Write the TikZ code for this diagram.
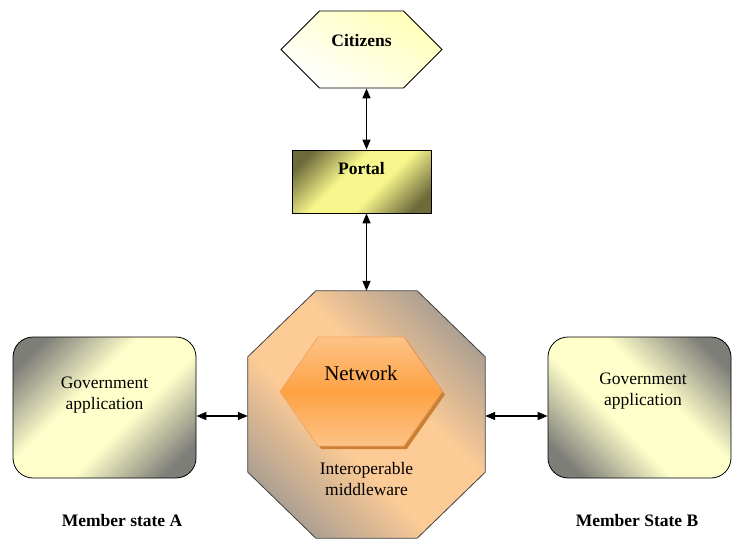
\documentclass[tikz,border=0pt]{standalone}
\usepackage{fontspec}
\setmainfont{Liberation Serif}
\usetikzlibrary{shapes.geometric,shapes.symbols,shadows,arrows.meta,positioning}
\definecolor{govdark}{HTML}{7E7E78}
\definecolor{govlight}{HTML}{FFFFCC}
\definecolor{portdark}{HTML}{6E6A3A}
\definecolor{portlight}{HTML}{F6F68C}
\definecolor{octdark}{HTML}{A39A90}
\definecolor{octlight}{HTML}{FDCB96}
\definecolor{netedge}{HTML}{F2A45E}
\pgfdeclarehorizontalshading{govshade}{100bp}{color(0bp)=(govdark); color(22bp)=(govdark); color(42bp)=(govlight); color(58bp)=(govlight); color(78bp)=(govdark); color(100bp)=(govdark)}
\pgfdeclarehorizontalshading{portshade}{100bp}{color(0bp)=(portdark); color(22bp)=(portdark); color(42bp)=(portlight); color(58bp)=(portlight); color(78bp)=(portdark); color(100bp)=(portdark)}
\pgfdeclarehorizontalshading{octshade}{100bp}{color(0bp)=(octdark); color(22bp)=(octdark); color(42bp)=(octlight); color(58bp)=(octlight); color(78bp)=(octdark); color(100bp)=(octdark)}
\begin{document}
\begin{tikzpicture}[x=1pt,y=-1pt,
    every node/.style={font=\fontsize{17.5}{21.5}\selectfont, align=center},
    bold/.style={font=\fontsize{17.5}{21.5}\selectfont\bfseries},
    govbox/.style={draw=black, line width=0.8pt, rounded corners=20pt, shading=govshade,
      minimum width=183pt, minimum height=141pt, inner sep=0pt},
    link/.style={{Triangle[length=10pt,width=8pt]}-{Triangle[length=10pt,width=8pt]}, line width=1.4pt}]
  \useasboundingbox (0,0) rectangle (732,541);
  \node[signal, signal to=east and west, signal pointer angle=90, draw=black, line width=0.8pt,
    shading=axis, left color=govlight!90!yellow, right color=white, shading angle=-30,
    minimum width=161pt, minimum height=77pt, inner sep=0pt, bold] (cit) at (361.5,49.5) {\raisebox{18pt}{Citizens}};
  \node[rectangle, draw=black, line width=0.8pt, shading=portshade, shading angle=-45,
    minimum width=139pt, minimum height=63pt, inner sep=0pt, bold] (portal) at (361.5,181.5) {\raisebox{26pt}{Portal}};
  % middleware octagon
  \node[minimum width=237pt, minimum height=247pt, inner sep=0pt] (oct) at (366.5,414.5) {};
  \draw[draw=black!75, line width=0.8pt, shading=octshade, shading angle=45]
    ([xshift=68pt]oct.north west) -- ([xshift=-68pt]oct.north east) -- ([yshift=-66pt]oct.north east)
    -- ([yshift=66pt]oct.south east) -- ([xshift=-68pt]oct.south east) -- ([xshift=68pt]oct.south west)
    -- ([yshift=66pt]oct.south west) -- ([yshift=-66pt]oct.north west) -- cycle;
  \node[signal, signal to=east and west, signal pointer angle=110, draw=netedge, line width=0.8pt,
    top color=octlight!90!orange, bottom color=octlight!90!orange, middle color=orange!55!octlight,
    drop shadow={shadow xshift=3pt, shadow yshift=-3pt, fill=brown!80!orange, opacity=1},
    minimum width=162pt, minimum height=109pt, inner sep=0pt,
    font=\fontsize{21}{25}\selectfont] (net) at (361,391.5) {\raisebox{36pt}{Network}};
  \node (mid) at (366.5,479) {Interoperable\\middleware};
  \node[govbox, shading angle=-45] (govA) at (104.5,407.5) {};
  \node[govbox, shading angle=45] (govB) at (639.5,407.5) {};
  \node (govAtext) at (104.5,395) {Government\\application};
  \node (govBtext) at (643,391) {Government\\application};
  \node[bold] (stateA) at (122,521) {Member state A};
  \node[bold] (stateB) at (637,521) {Member State B};
  \draw[link] (cit.south -| oct.north) -- (portal.north -| oct.north);
  \draw[link] (portal.south -| oct.north) -- (oct.north);
  \draw[link] ([yshift=-8.5pt]govA.east) -- ([yshift=-8.5pt]govA.east -| oct.west);
  \draw[link] ([yshift=-8.5pt]govB.west) -- ([yshift=-8.5pt]govB.west -| oct.east);
\end{tikzpicture}
\end{document}
